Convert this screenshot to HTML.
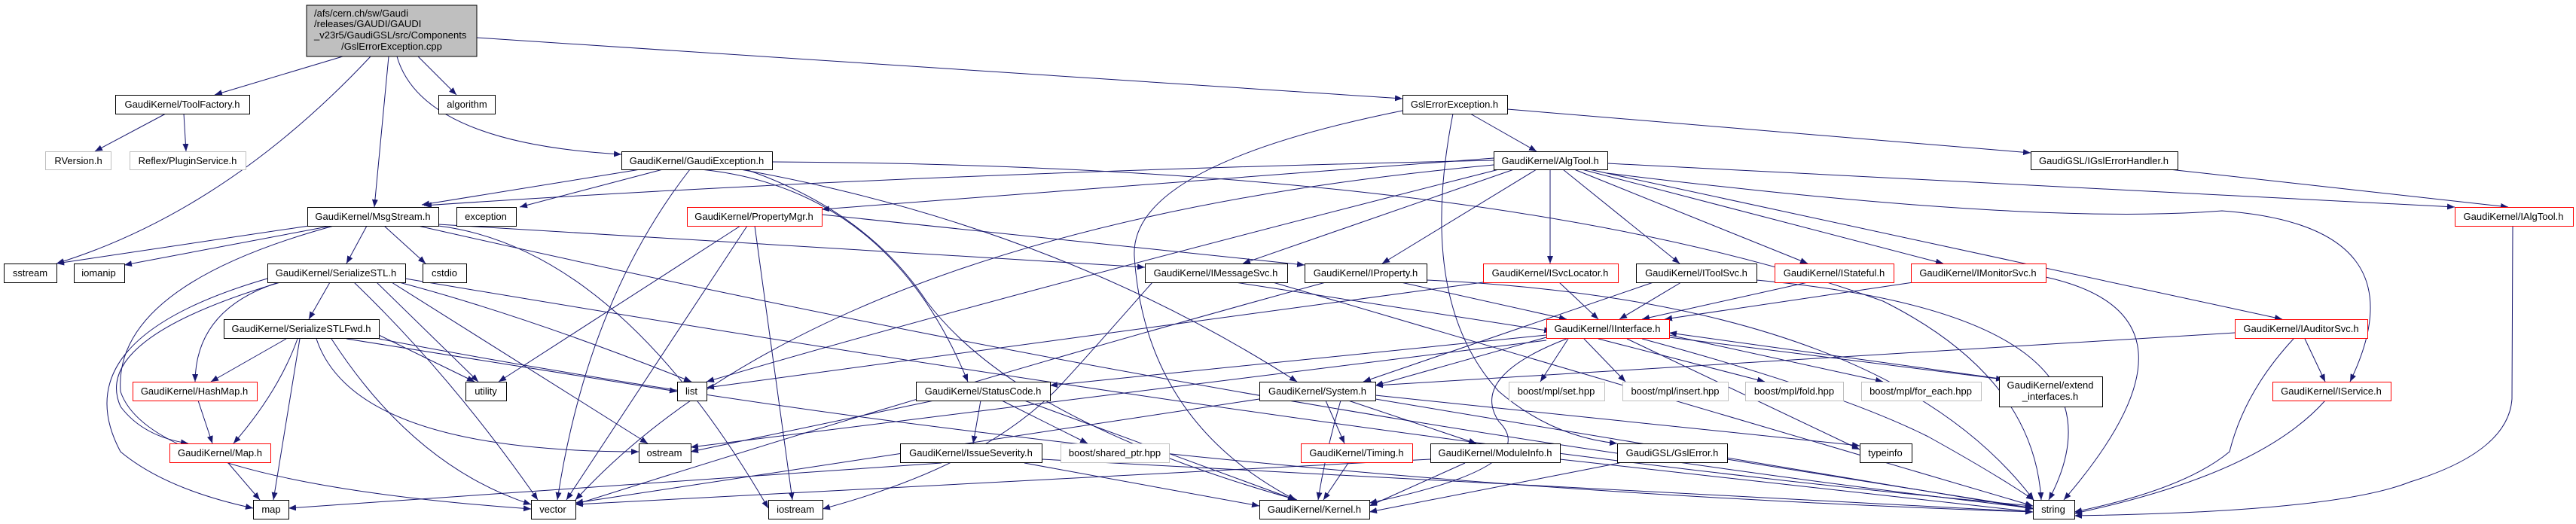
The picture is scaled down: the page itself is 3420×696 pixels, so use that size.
<!DOCTYPE html>
<html><head><meta charset="utf-8">
<style>
html,body{margin:0;padding:0;background:#fff;}
svg{display:block;}
text{font-family:"Liberation Sans",sans-serif;font-size:13px;fill:#000;}
.n{fill:#fff;stroke:#000;stroke-width:1;}
.r{fill:#fff;stroke:#ff0000;stroke-width:1;}
.g{fill:#fff;stroke:#bfbfbf;stroke-width:1;}
.e{fill:none;stroke:#191970;stroke-width:1;marker-end:url(#a);}
</style></head><body>
<svg width="3420" height="696" viewBox="0 0 3420 696" xmlns="http://www.w3.org/2000/svg">
<defs><marker id="a" markerUnits="userSpaceOnUse" markerWidth="11" markerHeight="8" refX="10" refY="4" orient="auto"><path d="M0,0 L10,4 L0,8 z" fill="#191970"/></marker></defs>
<g>
<path class="e" d="M455,75 L285,126"/>
<path class="e" d="M492,75 Q300,280 75,350"/>
<path class="e" d="M516,75 L497,275"/>
<path class="e" d="M555,75 L606,126"/>
<path class="e" d="M527,75 Q560,190 825,205"/>
<path class="e" d="M633,50 L1862,131"/>
<path class="e" d="M220,151 L126,201"/>
<path class="e" d="M244,151 L247,201"/>
<path class="e" d="M1952,151 L2040,201"/>
<path class="e" d="M2001,145 L2696,203"/>
<path class="e" d="M1929,151 Q1880,400 1990,520 Q2060,580 2147,589"/>
<path class="e" d="M1862,147 Q1500,220 1506,340 Q1520,560 1720,664"/>
<path class="e" d="M850,225 L560,272"/>
<path class="e" d="M880,225 L690,275"/>
<path class="e" d="M930,225 Q1180,250 1285,507"/>
<path class="e" d="M983,225 Q1400,300 1722,507"/>
<path class="e" d="M990,225 Q1150,280 1230,400 Q1350,560 1722,664"/>
<path class="e" d="M1025,215 Q2000,220 2500,400 Q2700,500 2710,664"/>
<path class="e" d="M916,225 Q780,400 740,664"/>
<path class="e" d="M1983,210 L1091,278"/>
<path class="e" d="M1983,213 Q1200,230 563,273"/>
<path class="e" d="M2010,225 L1650,350"/>
<path class="e" d="M2040,225 L1835,350"/>
<path class="e" d="M2058,225 L2058,350"/>
<path class="e" d="M2075,225 L2230,350"/>
<path class="e" d="M2090,225 L2400,350"/>
<path class="e" d="M2100,225 L2580,350"/>
<path class="e" d="M2110,225 L3030,424"/>
<path class="e" d="M2134,230 Q2700,300 2950,280 Q3220,300 3120,507"/>
<path class="e" d="M2134,217 L3259,275"/>
<path class="e" d="M1990,225 Q1300,400 938,507"/>
<path class="e" d="M1983,219 Q1100,300 764,664"/>
<path class="e" d="M410,300 L75,350"/>
<path class="e" d="M440,300 L165,352"/>
<path class="e" d="M487,300 L460,350"/>
<path class="e" d="M510,300 L565,350"/>
<path class="e" d="M582,298 L1520,355"/>
<path class="e" d="M555,300 Q1700,560 2699,675"/>
<path class="e" d="M443,300 Q150,380 160,520 Q200,640 705,676"/>
<path class="e" d="M582,300 Q820,330 1020,675"/>
<path class="e" d="M438,375 L410,424"/>
<path class="e" d="M370,375 Q260,410 259,507"/>
<path class="e" d="M372,375 Q120,450 160,540 Q190,580 250,589"/>
<path class="e" d="M355,370 Q80,450 160,600 Q220,650 336,675"/>
<path class="e" d="M500,375 L635,507"/>
<path class="e" d="M530,375 Q700,420 918,507"/>
<path class="e" d="M520,375 L860,589"/>
<path class="e" d="M470,375 Q600,500 714,664"/>
<path class="e" d="M538,370 Q1900,600 2699,672"/>
<path class="e" d="M380,450 L280,507"/>
<path class="e" d="M395,450 Q370,520 310,589"/>
<path class="e" d="M398,450 L363,664"/>
<path class="e" d="M503,445 L630,507"/>
<path class="e" d="M460,450 L899,520"/>
<path class="e" d="M420,450 Q470,600 848,600"/>
<path class="e" d="M440,450 Q550,620 705,670"/>
<path class="e" d="M503,450 Q1500,640 2699,680"/>
<path class="e" d="M263,532 L282,589"/>
<path class="e" d="M303,615 L345,664"/>
<path class="e" d="M983,300 L662,507"/>
<path class="e" d="M992,300 L752,664"/>
<path class="e" d="M1002,300 L1052,664"/>
<path class="e" d="M1091,285 L1732,352"/>
<path class="e" d="M1640,375 L2060,440"/>
<path class="e" d="M1690,375 L2699,672"/>
<path class="e" d="M1530,375 Q1420,500 1400,520 Q1300,620 1092,676"/>
<path class="e" d="M1860,375 L2080,424"/>
<path class="e" d="M1894,372 Q2500,400 2700,664"/>
<path class="e" d="M1760,375 Q1300,500 764,670"/>
<path class="e" d="M2070,375 L2122,424"/>
<path class="e" d="M1969,375 Q1400,450 938,515"/>
<path class="e" d="M2232,375 L2150,424"/>
<path class="e" d="M2195,375 L1810,507"/>
<path class="e" d="M2332,372 Q2850,420 2720,664"/>
<path class="e" d="M2400,375 L2180,424"/>
<path class="e" d="M2540,375 L2210,424"/>
<path class="e" d="M2716,368 Q2950,420 2740,664"/>
<path class="e" d="M2967,442 L1826,512"/>
<path class="e" d="M3060,450 L3087,507"/>
<path class="e" d="M3045,450 Q2980,520 2960,600 Q2900,650 2754,680"/>
<path class="e" d="M3087,532 Q3000,630 2754,682"/>
<path class="e" d="M3336,300 L3335,530 Q3330,600 3200,640 Q3100,680 2754,685"/>
<path class="e" d="M2082,450 L2045,507"/>
<path class="e" d="M2103,450 L2158,507"/>
<path class="e" d="M2122,450 L2343,507"/>
<path class="e" d="M2216,445 L2500,507"/>
<path class="e" d="M2216,448 L2660,504"/>
<path class="e" d="M2670,505 L2216,442"/>
<path class="e" d="M2053,448 L1826,512"/>
<path class="e" d="M2053,445 L1394,512"/>
<path class="e" d="M2080,450 Q1950,500 1990,560 Q2050,620 1818,668"/>
<path class="e" d="M2053,452 L917,594"/>
<path class="e" d="M2160,450 L2469,597"/>
<path class="e" d="M2180,450 Q2440,520 2560,580 Q2650,630 2700,664"/>
<path class="e" d="M1760,532 L1785,589"/>
<path class="e" d="M1790,532 L1960,589"/>
<path class="e" d="M1672,530 L764,668"/>
<path class="e" d="M1826,530 L2699,676"/>
<path class="e" d="M1826,525 L2469,592"/>
<path class="e" d="M1780,532 Q1760,600 1750,664"/>
<path class="e" d="M1302,532 L1292,589"/>
<path class="e" d="M1330,532 L1444,589"/>
<path class="e" d="M1360,532 L1720,664"/>
<path class="e" d="M1240,532 L917,600"/>
<path class="e" d="M1250,615 L383,675"/>
<path class="e" d="M1360,615 L1672,672"/>
<path class="e" d="M1383,610 L2699,680"/>
<path class="e" d="M1790,615 L1757,664"/>
<path class="e" d="M1945,615 L1818,672"/>
<path class="e" d="M1899,610 L764,670"/>
<path class="e" d="M2071,610 L2699,680"/>
<path class="e" d="M2150,615 L1818,680"/>
<path class="e" d="M2293,610 L2699,675"/>
<path class="e" d="M2880,225 L3330,275"/>
</g>
<g>
<rect x="407" y="7" width="226" height="68" fill="#bfbfbf" stroke="#000"/>
<text x="417" y="22">/afs/cern.ch/sw/Gaudi</text>
<text x="417" y="36">/releases/GAUDI/GAUDI</text>
<text x="417" y="51">_v23r5/GaudiGSL/src/Components</text>
<text x="520" y="66" text-anchor="middle">/GslErrorException.cpp</text>
</g>
<g text-anchor="middle">
<rect class="n" x="153.5" y="126.5" width="178" height="25"/><text x="242" y="143">GaudiKernel/ToolFactory.h</text>
<rect class="n" x="582.5" y="126.5" width="75" height="25"/><text x="620" y="143">algorithm</text>
<rect class="n" x="1862.5" y="126.5" width="139" height="25"/><text x="1931" y="143">GslErrorException.h</text>
<rect class="g" x="60.5" y="201.5" width="87" height="24"/><text x="104" y="218">RVersion.h</text>
<rect class="g" x="172.5" y="201.5" width="154" height="24"/><text x="249" y="218">Reflex/PluginService.h</text>
<rect class="n" x="825.5" y="201.5" width="200" height="24"/><text x="925" y="218">GaudiKernel/GaudiException.h</text>
<rect class="n" x="1983.5" y="201.5" width="151" height="24"/><text x="2058" y="218">GaudiKernel/AlgTool.h</text>
<rect class="n" x="2696.5" y="201.5" width="195" height="24"/><text x="2793" y="218">GaudiGSL/IGslErrorHandler.h</text>
<rect class="n" x="408.5" y="275.5" width="174" height="25"/><text x="495" y="292">GaudiKernel/MsgStream.h</text>
<rect class="n" x="606.5" y="275.5" width="79" height="25"/><text x="645" y="292">exception</text>
<rect class="r" x="912.5" y="275.5" width="179" height="25"/><text x="1001" y="292">GaudiKernel/PropertyMgr.h</text>
<rect class="r" x="3259.5" y="275.5" width="157" height="25"/><text x="3337" y="292">GaudiKernel/IAlgTool.h</text>
<rect class="n" x="5.5" y="350.5" width="70" height="25"/><text x="40" y="367">sstream</text>
<rect class="n" x="98.5" y="350.5" width="67" height="25"/><text x="131" y="367">iomanip</text>
<rect class="n" x="355.5" y="350.5" width="183" height="25"/><text x="446" y="367">GaudiKernel/SerializeSTL.h</text>
<rect class="n" x="561.5" y="350.5" width="58" height="25"/><text x="590" y="367">cstdio</text>
<rect class="n" x="1520.5" y="350.5" width="189" height="25"/><text x="1614" y="367">GaudiKernel/IMessageSvc.h</text>
<rect class="n" x="1732.5" y="350.5" width="162" height="25"/><text x="1813" y="367">GaudiKernel/IProperty.h</text>
<rect class="r" x="1969.5" y="350.5" width="179" height="25"/><text x="2058" y="367">GaudiKernel/ISvcLocator.h</text>
<rect class="n" x="2172.5" y="350.5" width="160" height="25"/><text x="2252" y="367">GaudiKernel/IToolSvc.h</text>
<rect class="r" x="2356.5" y="350.5" width="158" height="25"/><text x="2435" y="367">GaudiKernel/IStateful.h</text>
<rect class="r" x="2537.5" y="350.5" width="179" height="25"/><text x="2626" y="367">GaudiKernel/IMonitorSvc.h</text>
<rect class="n" x="297.5" y="424.5" width="206" height="25"/><text x="400" y="441">GaudiKernel/SerializeSTLFwd.h</text>
<rect class="r" x="2053.5" y="424.5" width="163" height="25"/><text x="2134" y="441">GaudiKernel/IInterface.h</text>
<rect class="r" x="2967.5" y="424.5" width="176" height="25"/><text x="3055" y="441">GaudiKernel/IAuditorSvc.h</text>
<rect class="r" x="176.5" y="507.5" width="165" height="25"/><text x="258" y="524">GaudiKernel/HashMap.h</text>
<rect class="n" x="618.5" y="507.5" width="54" height="25"/><text x="645" y="524">utility</text>
<rect class="n" x="899.5" y="507.5" width="39" height="25"/><text x="918" y="524">list</text>
<rect class="n" x="1216.5" y="507.5" width="178" height="25"/><text x="1305" y="524">GaudiKernel/StatusCode.h</text>
<rect class="n" x="1672.5" y="507.5" width="154" height="25"/><text x="1749" y="524">GaudiKernel/System.h</text>
<rect class="g" x="2003.5" y="507.5" width="127" height="25"/><text x="2066" y="524">boost/mpl/set.hpp</text>
<rect class="g" x="2154.5" y="507.5" width="140" height="25"/><text x="2224" y="524">boost/mpl/insert.hpp</text>
<rect class="g" x="2317.5" y="507.5" width="130" height="25"/><text x="2382" y="524">boost/mpl/fold.hpp</text>
<rect class="g" x="2471.5" y="507.5" width="159" height="25"/><text x="2550" y="524">boost/mpl/for_each.hpp</text>
<rect class="n" x="2654.5" y="500.5" width="137" height="40"/><text x="2722" y="516">GaudiKernel/extend</text><text x="2722" y="531">_interfaces.h</text>
<rect class="r" x="3017.5" y="507.5" width="157" height="25"/><text x="3095" y="524">GaudiKernel/IService.h</text>
<rect class="r" x="225.5" y="589.5" width="134" height="25"/><text x="292" y="606">GaudiKernel/Map.h</text>
<rect class="n" x="848.5" y="589.5" width="69" height="25"/><text x="882" y="606">ostream</text>
<rect class="n" x="1195.5" y="589.5" width="188" height="25"/><text x="1289" y="606">GaudiKernel/IssueSeverity.h</text>
<rect class="g" x="1408.5" y="589.5" width="144" height="25"/><text x="1480" y="606">boost/shared_ptr.hpp</text>
<rect class="r" x="1727.5" y="589.5" width="148" height="25"/><text x="1801" y="606">GaudiKernel/Timing.h</text>
<rect class="n" x="1899.5" y="589.5" width="172" height="25"/><text x="1985" y="606">GaudiKernel/ModuleInfo.h</text>
<rect class="n" x="2147.5" y="589.5" width="146" height="25"/><text x="2220" y="606">GaudiGSL/GslError.h</text>
<rect class="n" x="2469.5" y="589.5" width="69" height="25"/><text x="2503" y="606">typeinfo</text>
<rect class="n" x="336.5" y="664.5" width="47" height="25"/><text x="360" y="681">map</text>
<rect class="n" x="705.5" y="664.5" width="59" height="25"/><text x="734" y="681">vector</text>
<rect class="n" x="1020.5" y="664.5" width="72" height="25"/><text x="1056" y="681">iostream</text>
<rect class="n" x="1672.5" y="664.5" width="146" height="25"/><text x="1745" y="681">GaudiKernel/Kernel.h</text>
<rect class="n" x="2699.5" y="664.5" width="55" height="25"/><text x="2726" y="681">string</text>
</g>
</svg>
</body></html>
